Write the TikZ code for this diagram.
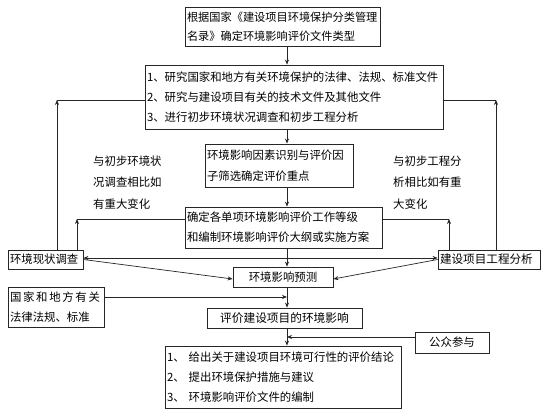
\documentclass[tikz,border=0pt]{standalone}
\usepackage{fontspec}
\newfontfamily\cjkf{Noto Sans CJK SC}
\usetikzlibrary{arrows.meta}
\begin{document}
\begin{tikzpicture}[x=1pt,y=-1pt,
  bx/.style={draw=black!85, line width=0.8pt, inner xsep=2pt, inner ysep=0pt, align=left,
    font=\cjkf\fontsize{11.4pt}{20pt}\selectfont},
  plain/.style={inner sep=0pt, align=left, font=\cjkf\fontsize{11.4pt}{21.5pt}\selectfont},
  arr/.style={-{Stealth[length=5pt,width=4pt]}, line width=0.7pt, draw=black!85},
  ln/.style={line width=0.7pt, draw=black!85}]
\useasboundingbox (0,0) rectangle (550,417);
\fill[white] (0,0) rectangle (550,417);

\coordinate (cx) at (287,0);

\node[bx, minimum width=195pt, minimum height=39pt, text width=191pt,
  font=\cjkf\fontsize{11.2pt}{19pt}\selectfont] (b1) at (282.5,26.5)
  {根据国家《建设项目环境保护分类管理\\名录》确定环境影响评价文件类型};

\node[bx, minimum width=298pt, minimum height=64pt, text width=294pt] (b2) at (294,97)
  {1、研究国家和地方有关环境保护的法律、法规、标准文件\\
   2、研究与建设项目有关的技术文件及其他文件\\
   3、进行初步环境状况调查和初步工程分析};

\node[bx, minimum width=148pt, minimum height=43pt, text width=144pt,
  font=\cjkf\fontsize{11.4pt}{21pt}\selectfont] (b3) at (279,165.5)
  {环境影响因素识别与评价因\\子筛选确定评价重点};

\node[bx, minimum width=197pt, minimum height=41pt, text width=193pt] (b4) at (283.5,227.5)
  {确定各单项环境影响评价工作等级\\和编制环境影响评价大纲或实施方案};

\node[plain, anchor=west] (tl) at (93,182.5) {与初步环境状\\况调查相比如\\有重大变化};
\node[plain, anchor=west] (tr) at (393,182.5) {与初步工程分\\析相比如有重\\大变化};

\node[bx, minimum width=75pt, minimum height=19pt, text width=71pt] (env) at (45.5,259.5) {环境现状调查};
\node[bx, minimum width=102pt, minimum height=19pt, text width=98pt,
  font=\cjkf\fontsize{11.6pt}{20pt}\selectfont] (proj) at (489,259.5) {建设项目工程分析};

\node[bx, minimum width=100pt, minimum height=20pt, align=center] (pred) at (283,277) {环境影响预测};

\node[bx, minimum width=96pt, minimum height=40pt, text width=92pt] (law) at (56,307)
  {\makebox[90pt][s]{国\hfill 家\hfill 和\hfill 地\hfill 方\hfill 有\hfill 关}\\法律法规、标准};

\node[bx, minimum width=155pt, minimum height=20pt, align=center,
  font=\cjkf\fontsize{11.7pt}{20pt}\selectfont] (eval) at (284.5,318) {评价建设项目的环境影响};

\node[bx, minimum width=74pt, minimum height=21pt, align=center] (pub) at (452,342.5) {公众参与};

\node[bx, minimum width=236pt, minimum height=62pt, text width=232pt] (fin) at (283,377)
  {1、\hspace{4pt}给出关于建设项目环境可行性的评价结论\\
   2、\hspace{4pt}提出环境保护措施与建议\\
   3、\hspace{4pt}环境影响评价文件的编制};

% main flow
\draw[arr] (b1.south -| cx) -- (b2.north -| cx);
\draw[arr] (b2.south -| cx) -- (b3.north -| cx);
\draw[arr] (b3.south -| cx) -- (b4.north -| cx);
\draw[arr] (b4.south -| cx) -- (pred.north -| cx);
\draw[arr] (pred.south -| cx) -- (eval.north -| cx);
\draw[arr] (eval.south -| cx) -- (fin.north -| cx);

% feedback loops
\coordinate (L1) at (57,100);
\coordinate (L2) at (77,219);
\coordinate (R1) at (496,100);
\coordinate (R2) at (449,219);
\draw[arr] (env.north -| L1) -- (L1);
\draw[ln] (L1) -- (b2.west |- L1);
\draw[arr] (env.north -| L2) -- (L2);
\draw[ln] (L2) -- (b4.west |- L2);
\draw[arr] (proj.north -| R1) -- (R1);
\draw[ln] (R1) -- (b2.east |- R1);
\draw[arr] (proj.north -| R2) -- (R2);
\draw[ln] (R2) -- (b4.east |- R2);

% junction below b4
\coordinate (J) at (287,258);
\draw[arr] (J) -- (env.east |- J);
\draw[arr] (J) -- (proj.west |- J);
\draw[arr] (env.east) -- ([yshift=-2pt]pred.west);
\draw[arr] (proj.west) -- ([yshift=-2pt]pred.east);

% side inputs
\coordinate (A3) at (287,297);
\draw[arr] (law.east |- A3) -- (A3);
\coordinate (P3) at (287,337);
\draw[arr] (pub.west |- P3) -- (P3);
\end{tikzpicture}
\end{document}
